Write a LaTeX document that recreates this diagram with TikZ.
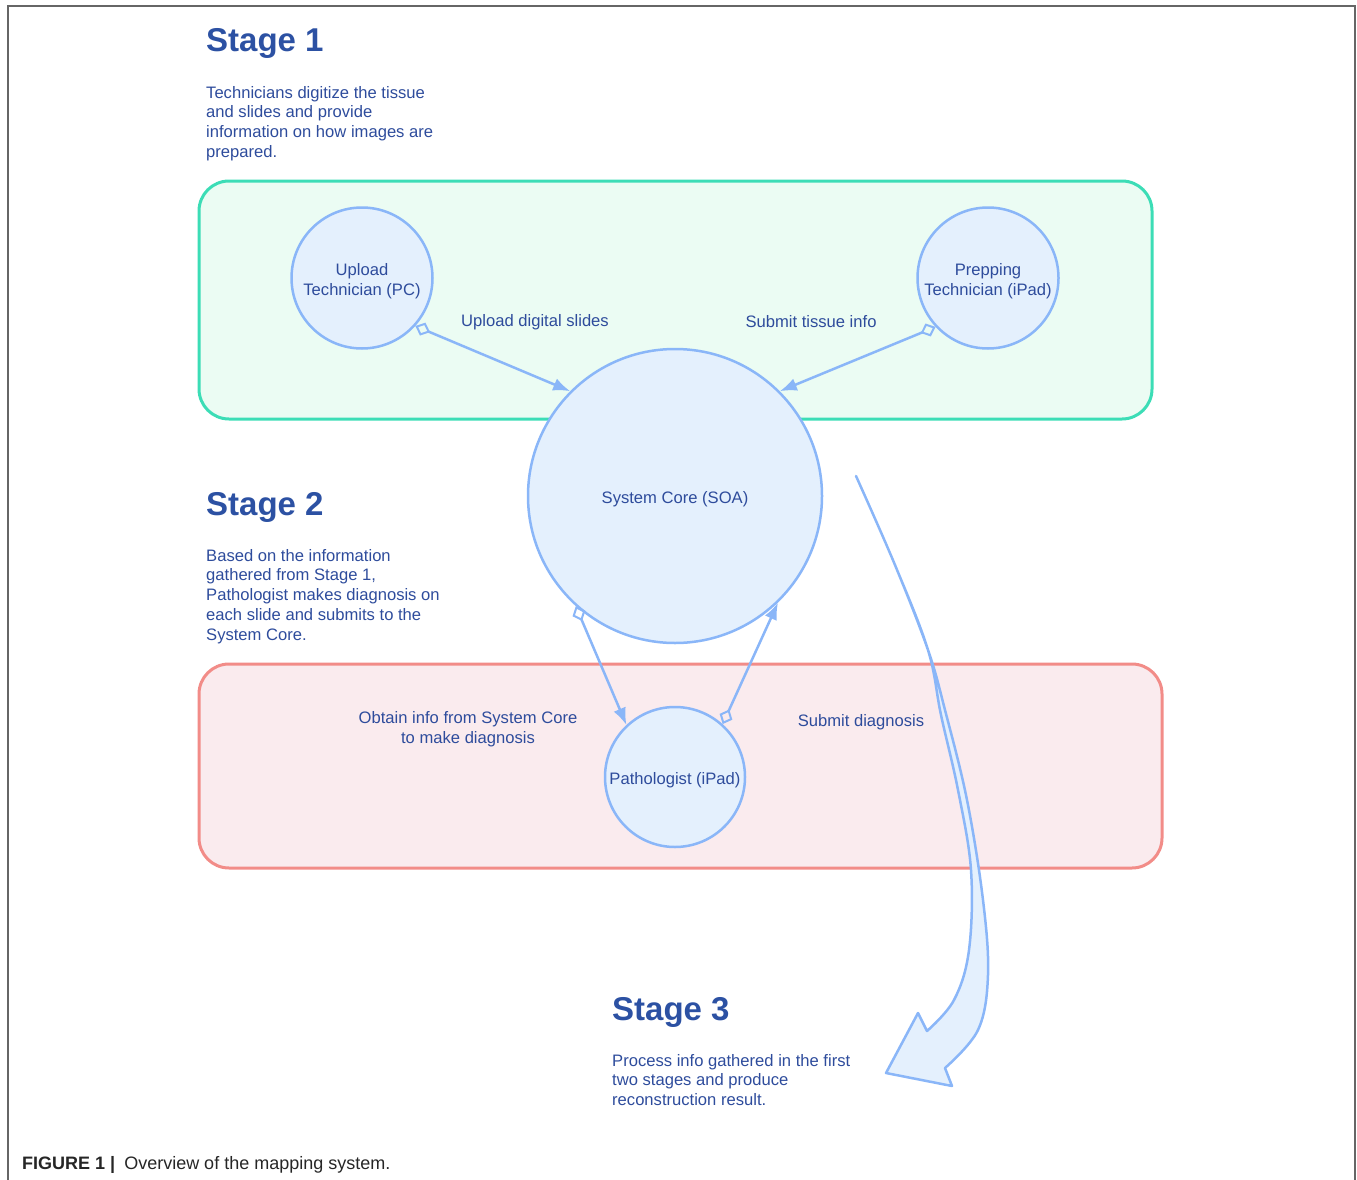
\documentclass[tikz,border=0pt]{standalone}
\usepackage{fontspec}
\setmainfont{Liberation Sans}
\usepackage{tikz}
\usetikzlibrary{arrows.meta,positioning}
\definecolor{StageBlue}{HTML}{2C51A3}
\definecolor{TextBlue}{HTML}{2E4C9C}
\definecolor{NodeLine}{HTML}{8AB6F8}
\definecolor{NodeFill}{HTML}{E4F0FD}
\definecolor{GreenLine}{HTML}{3CDDB6}
\definecolor{GreenFill}{HTML}{EBFCF3}
\definecolor{RedLine}{HTML}{F28C88}
\definecolor{RedFill}{HTML}{FAEBEE}
\tikzset{
  actor/.style={circle,draw=NodeLine,fill=NodeFill,line width=2.5pt,inner sep=0pt},
  stage/.style={text=StageBlue,inner sep=0pt,font=\fontsize{33}{40}\selectfont\bfseries},
  note/.style={text=TextBlue,align=left,inner sep=0pt,font=\fontsize{16.6}{19.7}\selectfont},
  lbl/.style={text=TextBlue,align=center,inner sep=0pt,font=\fontsize{16.6}{19.7}\selectfont},
  inner/.style={lbl,yshift=-3pt},
  lane/.style={rounded corners=30pt,line width=3pt},
  flow/.style={draw=NodeLine,line width=2.5pt,arrows={Diamond[open,length=16pt,width=14pt,line width=2pt]-Latex[length=17pt,width=13pt]}},
}

\begin{document}
\begin{tikzpicture}[x=1pt,y=-1pt]
\useasboundingbox (0,0) rectangle (1357,1180);
\draw[line width=1.2pt,draw=black!60] (8,1180) -- (8,6) -- (1355,6) -- (1355,1180);
% stage lanes
\draw[lane,draw=GreenLine,fill=GreenFill] (199,181) rectangle (1152,419);
\draw[lane,draw=RedLine,fill=RedFill] (199,664) rectangle (1162,868);
% stage texts
\node[stage,anchor=base west] (s1) at (206,52) {Stage 1};
\node[note,anchor=north west] (s1text) at (206,86) {Technicians digitize the tissue\\and slides and provide\\information on how images are\\prepared.};
\node[stage,anchor=base west] (s2) at (206,515) {Stage 2};
\node[note,anchor=north west] (s2text) at (206,549) {Based on the information\\gathered from Stage 1,\\Pathologist makes diagnosis on\\each slide and submits to the\\System Core.};
\node[stage,anchor=base west] (s3) at (612,1020) {Stage 3};
\node[note,anchor=north west] (s3text) at (612,1054) {Process info gathered in the first\\two stages and produce\\reconstruction result.};
% actors
\node[actor,minimum size=141pt,label={[inner]center:{Upload\\Technician (PC)}}] (upload) at (362,278) {};
\node[actor,minimum size=141pt,label={[inner]center:{Prepping\\Technician (iPad)}}] (prep) at (988,278) {};
\node[actor,minimum size=294pt,label={[inner]center:System Core (SOA)}] (core) at (675,496) {};
\node[actor,minimum size=140pt,label={[inner]center:Pathologist (iPad)}] (patho) at (675,777) {};
% flows
\draw[flow] (upload.-42) -- (core.135);
\draw[flow] (prep.-137) -- (core.45);
\draw[flow] (core.-132) -- (patho.133);
\draw[flow] (patho.48) -- (core.-46);
\node[lbl] (lupload) at (535,322) {Upload digital slides};
\node[lbl] (lprep) at (811,322) {Submit tissue info};
\node[lbl] (lobtain) at (468,729) {Obtain info from System Core\\to make diagnosis};
\node[lbl] (lsubmit) at (861,722) {Submit diagnosis};
% stage 3 arrow
\draw[draw=NodeLine,fill=NodeFill,line width=2.5pt,line join=round]
  plot[smooth,tension=0.6] coordinates {(856,476) (895,565) (928,650) (945,710) (967,800) (983,900) (988,975) (978,1030) (945,1068)}
  -- (952,1086) -- (886,1073) -- (918,1013) -- (927,1031)
  -- plot[smooth,tension=0.6] coordinates {(927,1031) (954,1000) (969,950) (971,870) (958,790) (941,715) (928,650) (895,565) (856,476)} -- cycle;
% caption
\node[anchor=base west,inner sep=0pt,text=black!85,font=\fontsize{18}{22}\selectfont] (cap) at (22,1169) {\textbf{FIGURE 1 |}\hspace{9pt}Overview of the mapping system.};
\end{tikzpicture}
\end{document}
